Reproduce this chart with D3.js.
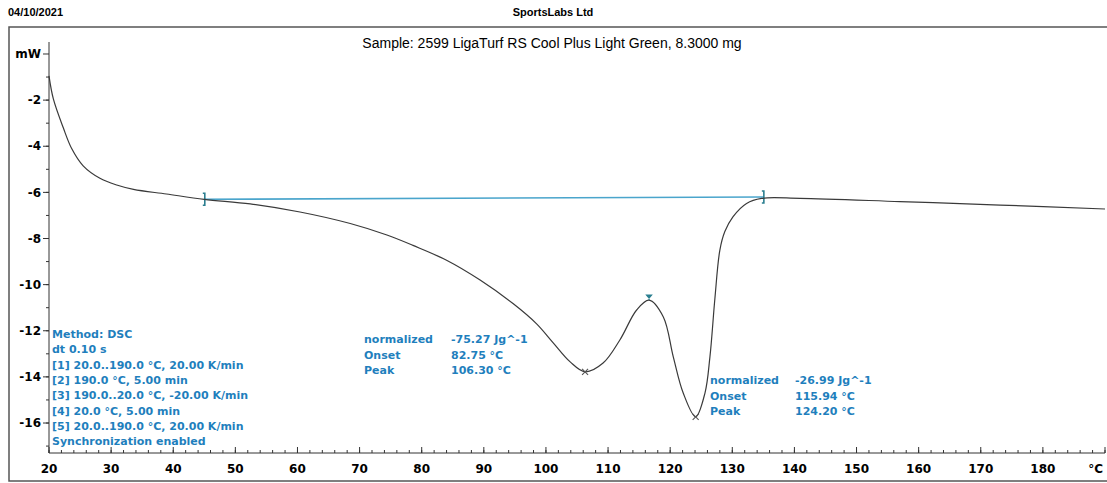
<!DOCTYPE html>
<html>
<head>
<meta charset="utf-8">
<script src="https://cdn.jsdelivr.net/npm/d3@7"></script>
<style>
  body { margin: 0; background: #fff; }
  svg text { fill: #000; }
</style>
</head>
<body>
<svg id="chart" width="1107" height="483"></svg>
<script>
'use strict'

// DSC curve (temperature °C, heat flow mW)
const curveT = [20, 20.7, 22.3, 23.65, 25.5, 28.2, 30.9, 33.6, 38.9, 45, 52.4, 60.4, 68.5, 74.4, 78.6, 84, 89.4, 94.7, 98.5, 101.1, 103.9, 106.3, 109.2, 111.9, 114.6, 116.6, 118.9, 120.5, 122.1, 124.1, 125.6, 126.4, 127.2, 128.0, 128.8, 130.1, 132.3, 134.7, 140.9, 157, 173.1, 190]
const curveMW = [-0.95, -1.95, -3.2, -4.1, -4.85, -5.39, -5.68, -5.87, -6.07, -6.3, -6.5, -6.85, -7.35, -7.85, -8.3, -8.94, -9.8, -10.82, -11.7, -12.5, -13.35, -13.78, -13.4, -12.4, -11.1, -10.67, -11.4, -13.13, -14.7, -15.73, -14.7, -13.13, -10.6, -8.5, -7.7, -7.06, -6.48, -6.26, -6.26, -6.4, -6.55, -6.72]

// integration baseline
const baseT = [45, 135]
const baseMW = [-6.3, -6.2]

// peak markers
const peakT = [106.3, 124.1]
const peakMW = [-13.78, -15.73]
const limitT = [116.6]
const limitMW = [-10.67]

const xTicks = [20, 30, 40, 50, 60, 70, 80, 90, 100, 110, 120, 130, 140, 150, 160, 170, 180]
const yTicks = [-2, -4, -6, -8, -10, -12, -14, -16]

const methodLines = ['Method: DSC', 'dt 0.10 s', '[1] 20.0..190.0 °C, 20.00 K/min', '[2] 190.0 °C, 5.00 min',
  '[3] 190.0..20.0 °C, -20.00 K/min', '[4] 20.0 °C, 5.00 min', '[5] 20.0..190.0 °C, 20.00 K/min', 'Synchronization enabled']
const result1Names = ['normalized', 'Onset', 'Peak']
const result1Values = ['-75.27 Jg^-1', '82.75 °C', '106.30 °C']
const result2Names = ['normalized', 'Onset', 'Peak']
const result2Values = ['-26.99 Jg^-1', '115.94 °C', '124.20 °C']

const blue = '#1f7fbd'
const svg = d3.select('#chart')

const x = d3.scaleLinear().domain([20, 190]).range([49, 1105])
const y = d3.scaleLinear().domain([-17.3, 0.52]).range([453, 42])

// header
svg.append('text').attr('x', 8).attr('y', 16)
  .style('font', 'bold 11px "Liberation Sans Narrow", "Liberation Sans", sans-serif')
  .text('04/10/2021')
svg.append('text').attr('x', 553).attr('y', 16).attr('text-anchor', 'middle')
  .style('font', 'bold 11px "Liberation Sans Narrow", "Liberation Sans", sans-serif')
  .text('SportsLabs Ltd')

// frame
svg.append('rect').attr('x', 9).attr('y', 27).attr('width', 1110).attr('height', 454)
  .attr('fill', 'none').attr('stroke', '#555').attr('stroke-width', 1.5)

svg.append('text').attr('x', 552).attr('y', 48).attr('text-anchor', 'middle')
  .style('font', '14px "Liberation Sans", sans-serif')
  .text('Sample: 2599 LigaTurf RS Cool Plus Light Green, 8.3000 mg')

// y axis
const yAxis = svg.append('g').attr('transform', `translate(${x(20)},0)`)
yAxis.append('line').attr('y1', y(0.52)).attr('y2', y(-17.3)).attr('stroke', '#333')
yAxis.selectAll('.minor').data(d3.range(-1, -18, -1)).join('line')
  .attr('x1', -3).attr('x2', 0).attr('y1', d => y(d)).attr('y2', d => y(d)).attr('stroke', '#333')
yAxis.selectAll('.major').data([0].concat(yTicks)).join('line')
  .attr('x1', -6).attr('x2', 0).attr('y1', d => y(d)).attr('y2', d => y(d)).attr('stroke', '#333')
yAxis.selectAll('text').data(yTicks).join('text')
  .attr('x', -8).attr('y', d => y(d)).attr('dy', '0.35em').attr('text-anchor', 'end')
  .style('font', 'bold 12px "DejaVu Sans", sans-serif')
  .text(d => d)
yAxis.append('text').attr('x', -8).attr('y', y(0)).attr('dy', '0.35em').attr('text-anchor', 'end')
  .style('font', 'bold 12px "DejaVu Sans", sans-serif').text('mW')

// x axis
const xAxis = svg.append('g').attr('transform', `translate(0,${y(-17.3)})`)
xAxis.append('line').attr('x1', x(20)).attr('x2', x(190)).attr('stroke', '#333')
xAxis.selectAll('.minor').data(d3.range(20, 191, 2)).join('line')
  .attr('x1', d => x(d)).attr('x2', d => x(d)).attr('y1', -3).attr('y2', 0).attr('stroke', '#333')
xAxis.selectAll('.major').data(xTicks.concat([190])).join('line')
  .attr('x1', d => x(d)).attr('x2', d => x(d)).attr('y1', -6).attr('y2', 0).attr('stroke', '#333')
xAxis.selectAll('text').data(xTicks).join('text')
  .attr('x', d => x(d)).attr('y', 20).attr('text-anchor', 'middle')
  .style('font', 'bold 12px "DejaVu Sans", sans-serif')
  .text(d => d)
xAxis.append('text').attr('x', x(188.5)).attr('y', 20).attr('text-anchor', 'middle')
  .style('font', 'bold 12px "DejaVu Sans", sans-serif').text('°C')

// baseline
const baseData = baseT.map((t, i) => ({ t: t, v: baseMW[i] }))
svg.append('path').datum(baseData)
  .attr('d', d3.line().x(d => x(d.t)).y(d => y(d.v)))
  .attr('fill', 'none').attr('stroke', '#4aa5cc').attr('stroke-width', 1.6)
svg.selectAll('.limit').data(baseData).join('path')
  .attr('d', d => `M${x(d.t) - 1.5},${y(d.v) - 6}h2v12h-2M${x(d.t) + 0.5},${y(d.v) - 6}v12`)
  .attr('fill', 'none').attr('stroke', '#2b7f90').attr('stroke-width', 1.6)

// curve
const curveData = curveT.map((t, i) => ({ t: t, v: curveMW[i] }))
svg.append('path').datum(curveData)
  .attr('d', d3.line().curve(d3.curveCatmullRom.alpha(0.5)).x(d => x(d.t)).y(d => y(d.v)))
  .attr('fill', 'none').attr('stroke', '#3a3a3a').attr('stroke-width', 1.2)

// peak x markers
svg.selectAll('.peak').data(peakT.map((t, i) => ({ t: t, v: peakMW[i] }))).join('path')
  .attr('d', d => `M${x(d.t) - 3},${y(d.v) - 3}l6,6M${x(d.t) + 3},${y(d.v) - 3}l-6,6`)
  .attr('stroke', '#555').attr('stroke-width', 1.1)

// peak limit marker
svg.selectAll('.pin').data(limitT.map((t, i) => ({ t: t, v: limitMW[i] }))).join('path')
  .attr('d', d => `M${x(d.t)},${y(d.v)}v-4M${x(d.t) - 2.5},${y(d.v) - 5}h5l-2.5,3z`)
  .attr('fill', '#2b7f90').attr('stroke', '#2b7f90').attr('stroke-width', 1.2)

// method text
const textFont = 'bold 11px "DejaVu Sans", sans-serif'
svg.append('g').selectAll('text').data(methodLines).join('text')
  .attr('x', 52).attr('y', (d, i) => 338 + i * 15.3)
  .style('font', textFont).style('fill', blue)
  .text(d => d)

function results(names, values, x0, x1, y0) {
  const g = svg.append('g')
  g.selectAll('.n').data(names).join('text')
    .attr('x', x0).attr('y', (d, i) => y0 + i * 15.5)
    .style('font', textFont).style('fill', blue).text(d => d)
  g.selectAll('.v').data(values).join('text')
    .attr('x', x1).attr('y', (d, i) => y0 + i * 15.5)
    .style('font', textFont).style('fill', blue).text(d => d)
}
results(result1Names, result1Values, 364, 451, 343)
results(result2Names, result2Values, 710, 795, 384)
</script>
</body>
</html>
